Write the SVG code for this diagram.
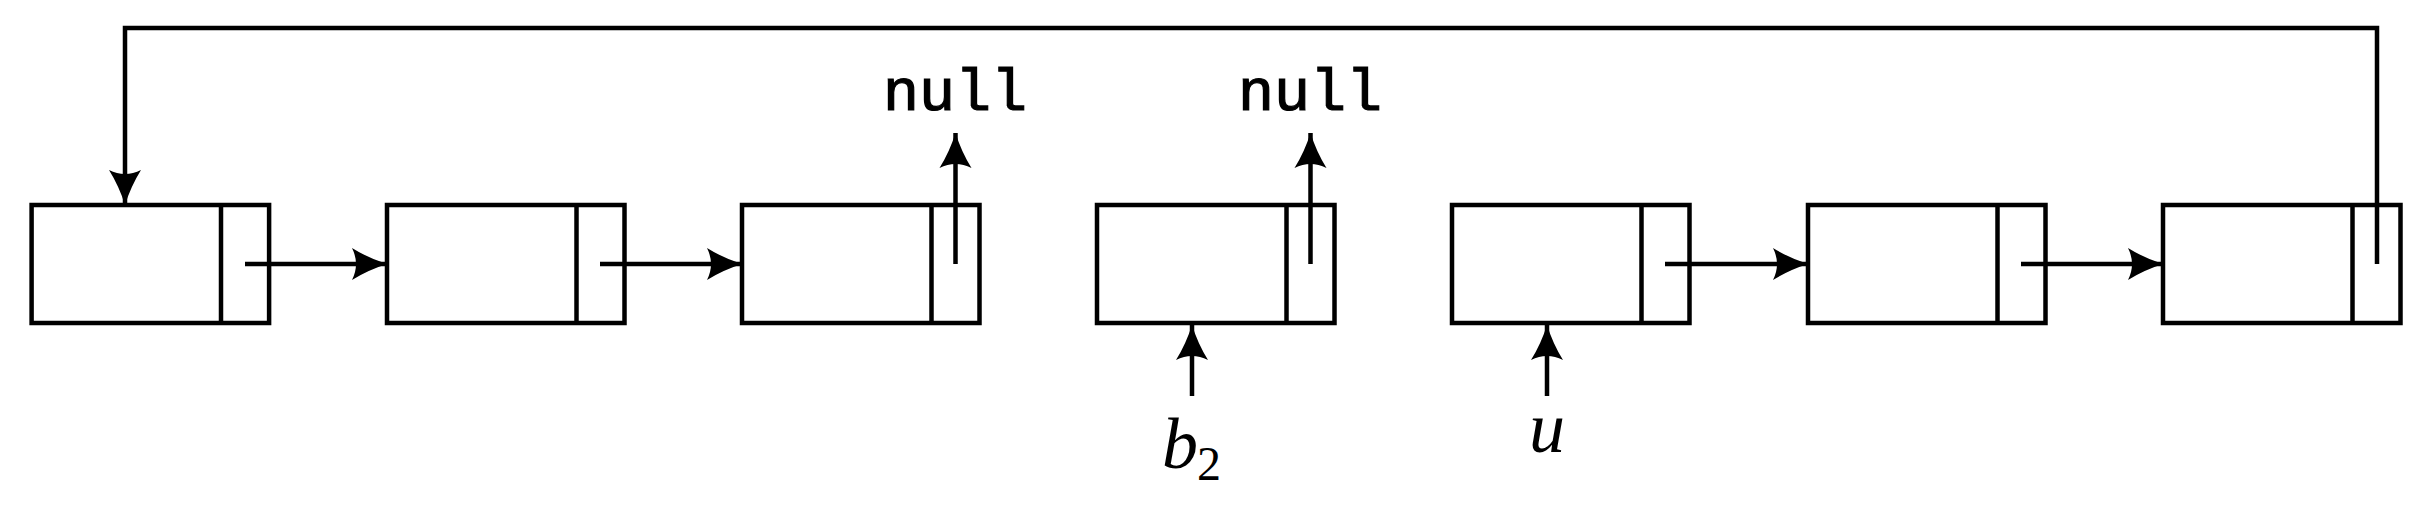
<svg xmlns="http://www.w3.org/2000/svg" width="2430" height="511" viewBox="0 0 2430 511">
<style>
.b{fill:#fff;stroke:#000;stroke-width:4.5}
.l{fill:none;stroke:#000;stroke-width:4.5}
.c{fill:none;stroke:#000;stroke-width:4.5;marker-end:url(#ah)}
.m{font-family:"Liberation Mono","Courier New",monospace;font-size:60px;stroke:#000;stroke-width:1.2}
.i{font-family:"Liberation Serif",serif;font-style:italic;font-size:72px}
</style>
<defs>
<marker id="ah" markerUnits="userSpaceOnUse" markerWidth="40" markerHeight="36" refX="37" refY="18" orient="auto">
<path d="M2,2 Q18,12 37,18 Q18,24 2,34 Q10,18 2,2 Z" fill="#000"/>
</marker>
</defs>
<g id="n1"><rect class="b" x="31.6" y="205" width="237.5" height="118"/><line class="l" x1="221" y1="205" x2="221" y2="323"/></g>
<g id="n2"><rect class="b" x="387" y="205" width="237.5" height="118"/><line class="l" x1="576.5" y1="205" x2="576.5" y2="323"/></g>
<g id="n3"><rect class="b" x="742" y="205" width="237.5" height="118"/><line class="l" x1="931.5" y1="205" x2="931.5" y2="323"/></g>
<g id="n4"><rect class="b" x="1097" y="205" width="237.5" height="118"/><line class="l" x1="1286.5" y1="205" x2="1286.5" y2="323"/></g>
<g id="n5"><rect class="b" x="1452" y="205" width="237.5" height="118"/><line class="l" x1="1641.5" y1="205" x2="1641.5" y2="323"/></g>
<g id="n6"><rect class="b" x="1808" y="205" width="237.5" height="118"/><line class="l" x1="1997.5" y1="205" x2="1997.5" y2="323"/></g>
<g id="n7"><rect class="b" x="2163" y="205" width="237.5" height="118"/><line class="l" x1="2352.5" y1="205" x2="2352.5" y2="323"/></g>
<g id="labels">
<text class="m" x="955" y="110" text-anchor="middle">null</text>
<text class="m" x="1310" y="110" text-anchor="middle">null</text>
<text class="i" x="1162" y="468">b</text>
<text x="1197" y="480" style="font-family:'Liberation Serif',serif;font-size:48px">2</text>
<text class="i" x="1547" y="452" text-anchor="middle">u</text>
</g>
<g id="connectors">
<line class="c" x1="245" y1="264" x2="387" y2="264"/>
<line class="c" x1="600" y1="264" x2="742" y2="264"/>
<line class="c" x1="1665" y1="264" x2="1808" y2="264"/>
<line class="c" x1="2021" y1="264" x2="2163" y2="264"/>
<line class="c" x1="955.5" y1="264" x2="955.5" y2="133"/>
<line class="c" x1="1310.5" y1="264" x2="1310.5" y2="133"/>
<line class="c" x1="1192" y1="396" x2="1192" y2="325"/>
<line class="c" x1="1547" y1="396" x2="1547" y2="325"/>
<polyline class="c" points="2377,264 2377,28 125,28 125,205"/>
</g>
</svg>
